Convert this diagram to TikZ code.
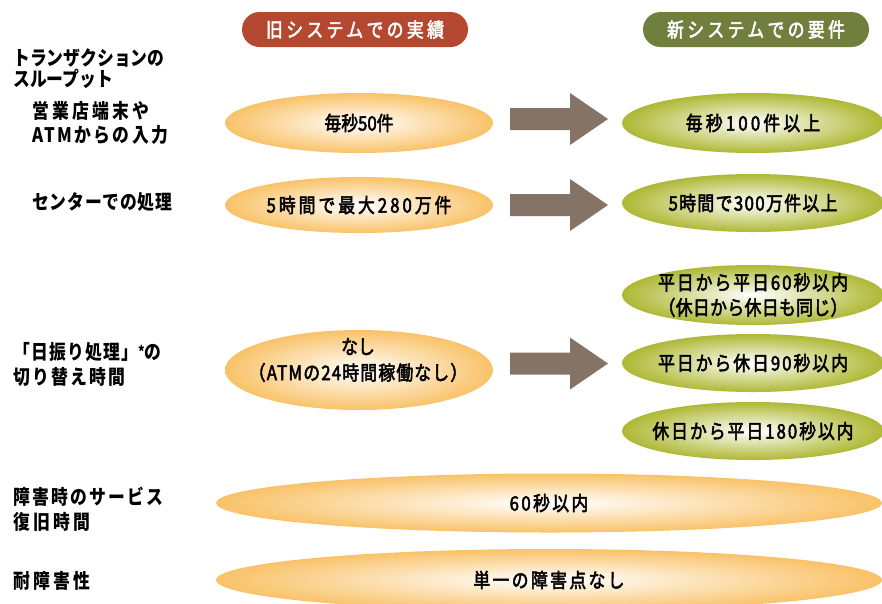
\documentclass[tikz,border=0pt]{standalone}
\usepackage{fontspec}
\newfontfamily\jp[FakeStretch=0.84]{Noto Sans CJK JP}
\newfontfamily\jpm[FakeStretch=0.84,FakeBold=2.5]{Noto Sans CJK JP}
\usetikzlibrary{shapes.geometric}
\definecolor{rust}{RGB}{180,72,48}
\definecolor{olive}{RGB}{112,126,62}
\definecolor{orangeE}{RGB}{249,194,104}
\definecolor{greenE}{RGB}{174,184,52}
\definecolor{arrowc}{RGB}{133,115,102}
\newcommand{\ls}[1]{\addfontfeature{LetterSpace=#1}}
\begin{document}
\begin{tikzpicture}[x=1pt,y=-1pt,
  pill/.style={rectangle, rounded corners=17.5pt, minimum width=226pt, minimum height=35pt,
    inner sep=0pt, text=white, font=\jpm\fontsize{20}{22}\selectfont\ls{17}},
  oldell/.style={ellipse, shading=radial, inner color=white, outer color=orangeE,
    inner sep=0pt, align=center, font=\jpm\fontsize{20}{26}\selectfont},
  newell/.style={ellipse, shading=radial, inner color=white, outer color=greenE,
    inner sep=0pt, align=center, font=\jpm\fontsize{20}{25}\selectfont},
  txt/.style={inner sep=0pt, align=center, font=\jpm\fontsize{20}{25}\selectfont},
  lab/.style={anchor=west, inner sep=0pt, align=left, font=\jp\bfseries\fontsize{20}{24}\selectfont},
  blockarrow/.style={fill=arrowc, draw=none}]
\useasboundingbox (0,0) rectangle (882,603);
\fill[white] (0,0) rectangle (882,603);

% headers
\node[pill, fill=rust]  (hold) at (355,29.5) {旧システムでの実績};
\node[pill, fill=olive] (hnew) at (756,29.5) {新システムでの要件};

% left labels
\node[lab, font=\jp\bfseries\fontsize{20}{21}\selectfont] (l1) at (13,68.5) {トランザクションの\\スループット};
\node[lab] (l2) at (32,123) {\ls{16}営業店端末や\\\ls{12}ATMからの入力};
\node[lab] (l3) at (32,202) {\ls{5}センターでの処理};
\node[lab, font=\jp\bfseries\fontsize{20}{25}\selectfont] (l4) at (13,364.5) {\ls{6}「日振り処理」\raisebox{2pt}{\fontsize{15}{15}\selectfont *}の\\\ls{11}切り替え時間};
\node[lab, font=\jp\bfseries\fontsize{20}{25}\selectfont] (l5) at (13,509.5) {\ls{11}障害時のサービス\\\ls{17}復旧時間};
\node[lab] (l6) at (13,581) {\ls{17}耐障害性};

% old system ellipses
\node[oldell, minimum width=268pt, minimum height=60pt] (o1) at (359,123) {毎秒50件};
\node[oldell, minimum width=268pt, minimum height=56pt] (o2) at (359,205) {\ls{15}5時間で最大280万件};
\node[oldell, minimum width=268pt, minimum height=80pt] (o3) at (359,370) {};
\node[txt, font=\jpm\fontsize{20}{26}\selectfont] (o3t) at (358,360) {なし\\\ls{6}（ATMの24時間稼働なし）};

% new system ellipses
\node[newell, minimum width=262pt, minimum height=60pt] (n1) at (753,123) {\ls{16}毎秒100件以上};
\node[newell, minimum width=262pt, minimum height=58pt] (n2) at (753,203) {\ls{7}5時間で300万件以上};
\node[newell, minimum width=262pt, minimum height=60pt,
  label={[txt]center:\ls{10}平日から平日60秒以内\\\ls{2}（休日から休日も同じ）}] (n3) at (753,295) {};
\node[newell, minimum width=262pt, minimum height=58pt,
  label={[txt]center:\ls{10}平日から休日90秒以内}] (n4) at (753,363) {};
\node[newell, minimum width=262pt, minimum height=58pt,
  label={[txt]center:\ls{10}休日から平日180秒以内}] (n5) at (753,431) {};

% bottom shared ellipses
\node[oldell, minimum width=666pt, minimum height=59pt] (b1) at (549,503) {\ls{12}60秒以内};
\node[oldell, minimum width=666pt, minimum height=62pt] (b2) at (549,580) {\ls{12}単一の障害点なし};

% block arrows
\foreach \nm/\yy in {a1/119, a2/205, a3/363.5}{
  \coordinate (\nm) at (510,\yy);
  \fill[blockarrow] (\nm) ++(0,-11) -- ++(60,0) -- ++(0,-15) -- ++(38,26)
    -- ++(-38,26) -- ++(0,-15) -- ++(-60,0) -- cycle;
}
\end{tikzpicture}
\end{document}
